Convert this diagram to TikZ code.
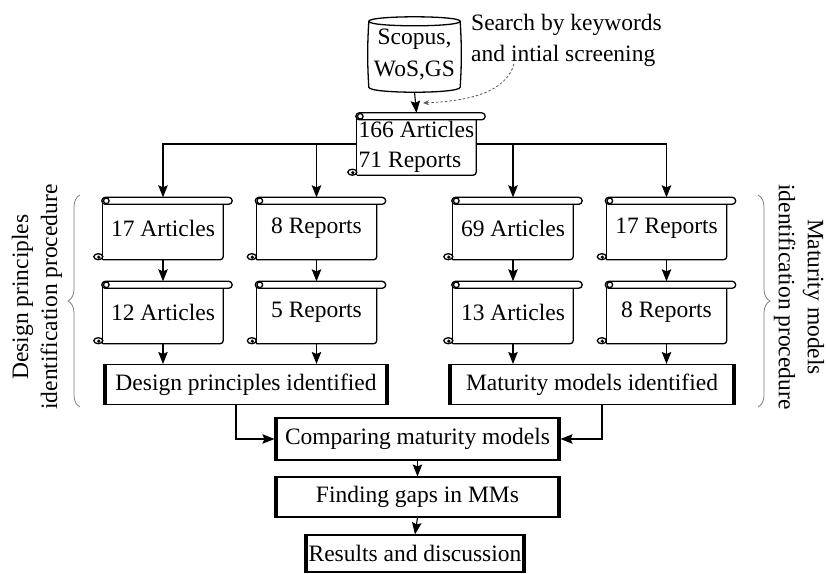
\documentclass[tikz,border=0pt]{standalone}
\usepackage{fontspec}
\setmainfont{Liberation Serif}
\usetikzlibrary{arrows.meta,calc,decorations.pathreplacing}
\pgfdeclarelayer{bg}
\pgfdeclarelayer{paper}
\pgfsetlayers{paper,bg,main}
\tikzset{
  base/.style={font=\fontsize{23.5}{31}\selectfont, inner sep=0pt},
  sidetext/.style={font=\fontsize{23.5}{29}\selectfont, inner sep=0pt, align=center},
  scrollnode/.style={base, minimum width=120pt, minimum height=62pt},
  barbox/.style={base, draw, line width=1.1pt, fill=white},
  arr/.style={line width=1.1pt, -{Stealth[length=12pt,width=9.5pt,inset=2pt]}},
  outl/.style={line width=1.3pt},
  bracestyle/.style={draw=gray, line width=0.8pt, decorate, decoration={brace, amplitude=12pt}},
}
\newcommand\scrollshape[1]{%
  \fill[white] ($(#1.north west)+(0,4)$) rectangle (#1.south east);
  \draw[outl] ($(#1.north west)+(0,5)$) -- (#1.south west);
  \draw[outl, rounded corners=3pt] (#1.south west) -- (#1.south east) -- ($(#1.north east)+(0,5)$);
  \draw[outl, fill=white] ($(#1.south west)+(-4.5,-3)$) ellipse [x radius=4.5pt, y radius=3pt];
  \fill ($(#1.south west)+(-4,-2.5)$) circle (1.8pt);
  \draw[outl, fill=white, rounded corners=3.5pt] ($(#1.north west)+(-1,0)$) rectangle ($(#1.north east)+(9,7)$);
  \draw[outl] ($(#1.north west)+(3.5,3.5)$) circle (2.8pt);
}
\newcommand\sidebars[1]{%
  \fill (#1.north west) rectangle ($(#1.south west)+(4,0)$);
  \fill ($(#1.north east)+(-4,0)$) rectangle (#1.south east);
}
\begin{document}
\begin{tikzpicture}[x=1pt,y=-1pt]
\useasboundingbox (0,0) rectangle (827,573);
\begin{pgfonlayer}{paper}
\fill[white] (0,0) rectangle (827,573);
\end{pgfonlayer}

% database
\node[base, minimum width=91pt, minimum height=75pt, align=center, font=\fontsize{23.5}{32}\selectfont] (db) at (414.5,54.5) {Scopus,\\WoS,GS};
\begin{pgfonlayer}{bg}
\draw[outl, fill=white] ($(db.north west)+(0,4.5)$)
  .. controls ($(db.north west)+(-1.5,30)$) and ($(db.south west)+(-1.5,-30)$) .. ($(db.south west)+(0,-5)$)
  .. controls ($(db.south west)+(0,1.7)$) and ($(db.south east)+(0,1.7)$) .. ($(db.south east)+(0,-5)$)
  .. controls ($(db.south east)+(1.5,-30)$) and ($(db.north east)+(1.5,30)$) .. ($(db.north east)+(0,4.5)$)
  .. controls ($(db.north east)+(0,-1.5)$) and ($(db.north west)+(0,-1.5)$) .. cycle;
\draw[outl] ($(db.north west)+(0,4.5)$) .. controls ($(db.north west)+(0,10.5)$) and ($(db.north east)+(0,10.5)$) .. ($(db.north east)+(0,4.5)$);
\end{pgfonlayer}

\node[base, align=left, anchor=west] (st) at (471,40) {Search by keywords\\and intial screening};

% scrolls
\node[scrollnode, align=left, minimum width=119pt, font=\fontsize{23.5}{29.5}\selectfont] (s0) at (416.5,144) {\rule{0pt}{22pt}166 Articles\\71 Reports};
\node[scrollnode] (a1) at (163,228.5) {17 Articles};
\node[scrollnode] (a2) at (316.5,228.5) {8 Reports};
\node[scrollnode] (a3) at (513,228.5) {69 Articles};
\node[scrollnode] (a4) at (666.5,228.5) {17 Reports};
\node[scrollnode] (b1) at (163,312.5) {12 Articles};
\node[scrollnode] (b2) at (316.5,312.5) {5 Reports};
\node[scrollnode] (b3) at (513,312.5) {13 Articles};
\node[scrollnode] (b4) at (666.5,312.5) {8 Reports};
\begin{pgfonlayer}{bg}
\foreach \n in {s0,a1,a2,a3,a4,b1,b2,b3,b4}{\scrollshape{\n}}
\end{pgfonlayer}

% boxes
\node[barbox, minimum width=284pt, minimum height=40pt] (d1) at (246,384.5) {Design principles identified};
\node[barbox, minimum width=286pt, minimum height=40pt] (d2) at (592,384.5) {Maturity models identified};
\node[barbox, minimum width=285pt, minimum height=42pt] (c) at (417.5,439) {Comparing maturity models};
\node[barbox, minimum width=285pt, minimum height=40pt] (f) at (417.5,497) {Finding gaps in MMs};
\node[barbox, minimum width=220pt, minimum height=37pt] (r) at (415,553.5) {Results and discussion};
\foreach \n in {d1,d2,c,f,r}{\sidebars{\n}}

% side labels
\node[sidetext, rotate=90] (lt) at (37,297) {Design principles\\identification procedure};
\node[sidetext, rotate=-90] (rt) at (799,297) {Maturity models\\identification procedure};
\draw[bracestyle] (80,407) -- (80,195);
\draw[bracestyle] (758,195) -- (758,407);

% connectors
\draw[arr] (db.south) -- (s0.north);
\coordinate (ds) at (514,64);
\coordinate (de) at (423,103);
\draw[line width=0.8pt, draw=black!65, dash pattern=on 2.5pt off 2pt, -{Stealth[length=6pt,width=5pt]}] (ds) .. controls (506,92) and (470,101) .. (de);
\draw[arr] (s0.west) -| (a1.north);
\draw[arr] (s0.west -| a2.north) -- (a2.north);
\draw[arr] (s0.east) -| (a4.north);
\draw[arr] (s0.east -| a3.north) -- (a3.north);
\foreach \i in {1,2,3,4}{\draw[arr] (a\i.south) -- (b\i.north);}
\draw[arr] (b1.south) -- (b1.south |- d1.north);
\draw[arr] (b2.south) -- (b2.south |- d1.north);
\draw[arr] (b3.south) -- (b3.south |- d2.north);
\draw[arr] (b4.south) -- (b4.south |- d2.north);
\draw[arr] ([xshift=-10pt]d1.south) |- (c.west);
\draw[arr] ([xshift=10pt]d2.south) |- (c.east);
\draw[arr] (c.south) -- (f.north);
\draw[arr] (f.south) -- (r.north);
\end{tikzpicture}
\end{document}
